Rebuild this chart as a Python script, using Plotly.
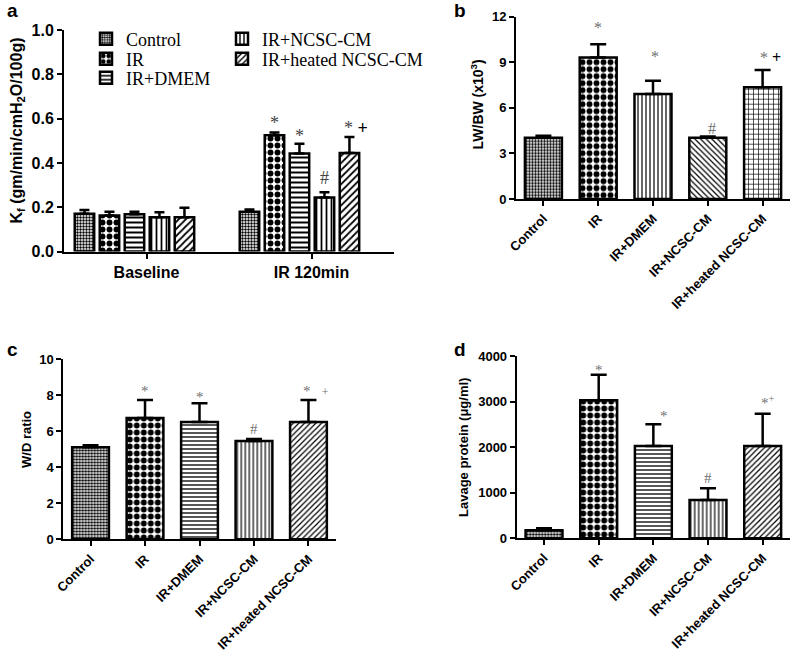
import plotly.graph_objects as go

# ---------------- data ----------------
groups = ["Control", "IR", "IR+DMEM", "IR+NCSC-CM", "IR+heated NCSC-CM"]
a_categories = ["Baseline", "IR 120min"]

# panel a : Kf
a_baseline = [0.170, 0.162, 0.168, 0.155, 0.155]
a_baseline_err = [0.017, 0.018, 0.012, 0.022, 0.043]
a_ir120 = [0.180, 0.525, 0.442, 0.244, 0.445]
a_ir120_err = [0.010, 0.012, 0.045, 0.024, 0.072]
a_sig = ["", "*", "*", "#", "*"]
a_plus = ["", "", "", "", "+"]

# panel b : LW/BW
b_vals = [4.04, 9.32, 6.91, 4.04, 7.35]
b_err = [0.13, 0.86, 0.88, 0.08, 1.14]
b_sig = ["", "*", "*", "#", "*"]
b_plus = ["", "", "", "", "+"]

# panel c : W/D ratio
c_vals = [5.10, 6.73, 6.50, 5.45, 6.50]
c_err = [0.11, 0.99, 1.04, 0.11, 1.22]
c_sig = ["", "*", "*", "#", "*"]
c_plus = ["", "", "", "", "+"]

# panel d : lavage protein
d_vals = [175, 3027, 2026, 841, 2026]
d_err = [44, 563, 475, 256, 709]
d_sig = ["", "*", "*", "#", "*"]
d_plus = ["", "", "", "", "+"]

# ---------------- styles ----------------
W, H = 794, 656
SANS = "Liberation Sans"
SERIF = "Liberation Serif"


def px_x(p):
    return p / W


def px_y(p):
    return 1 - p / H


pat_acd = [(".", 3, 0.5), (".", 7, 0.55), ("-", 4, 0.33), ("|", 4, 0.3), ("/", 4, 0.3)]
pat_a = [(".", 3, 0.5), (".", 7, 0.55), ("-", 5, 0.4), ("|", 5, 0.35), ("/", 5, 0.35)]
pat_b = [(".", 3, 0.5), (".", 7, 0.55), ("|", 4, 0.3), ("\\", 4, 0.3), ("+", 5, 0.25)]

fig = go.Figure()

# ---- panel a (grouped bars, explicit offsets) ----
gc, step, bw = -0.073, 0.1515, 0.118
for i, g in enumerate(groups):
    shp, sz, sol = pat_a[i]
    fig.add_trace(go.Bar(
        x=a_categories,
        y=[a_baseline[i], a_ir120[i]],
        name=g,
        width=bw,
        offset=gc + (i - 2) * step - bw / 2,
        marker=dict(color="white", line=dict(color="black", width=2.5),
                    pattern=dict(shape=shp, size=sz, solidity=sol,
                                 fgcolor="black", bgcolor="white")),
        error_y=dict(type="data", symmetric=False,
                     array=[a_baseline_err[i], a_ir120_err[i]],
                     arrayminus=[0, 0], color="black", thickness=2.5, width=5),
        xaxis="x", yaxis="y",
        legend="legend" if i == 0 else f"legend{i + 1}",
        showlegend=True,
    ))


def single_panel(vals, err, pats, xa, ya):
    fig.add_trace(go.Bar(
        x=groups, y=vals, width=0.675,
        marker=dict(color="white", line=dict(color="black", width=2.5),
                    pattern=dict(shape=[p[0] for p in pats],
                                 size=[p[1] for p in pats],
                                 solidity=[p[2] for p in pats],
                                 fgcolor="black", bgcolor="white")),
        error_y=dict(type="data", symmetric=False, array=err,
                     arrayminus=[0] * len(err), color="black",
                     thickness=2.5, width=8),
        xaxis=xa, yaxis=ya, showlegend=False,
    ))


single_panel(b_vals, b_err, pat_b, "x2", "y2")
single_panel(c_vals, c_err, pat_acd, "x3", "y3")
single_panel(d_vals, d_err, pat_acd, "x4", "y4")

axis_common = dict(showline=True, linecolor="black", linewidth=2, ticks="outside",
                   ticklen=5, tickwidth=2, tickcolor="black", showgrid=False,
                   zeroline=False, automargin=False)

fig.update_layout(
    template="none",
    width=W, height=H, margin=dict(l=0, r=0, t=0, b=0, autoexpand=False),
    paper_bgcolor="white", plot_bgcolor="white",
    barmode="overlay",
    xaxis=dict(domain=[px_x(64), px_x(394)], anchor="y", range=[-0.5, 1.5],
               tickfont=dict(family=SANS, size=16, color="black", weight="bold"),
               **axis_common),
    yaxis=dict(domain=[px_y(251.5), px_y(30)], anchor="x", range=[0, 1.0], dtick=0.2,
               tickformat=".1f",
               tickfont=dict(family=SANS, size=16, color="black", weight="bold"),
               **axis_common),
    xaxis2=dict(domain=[px_x(516), px_x(790)], anchor="y2", range=[-0.5, 4.5],
                tickangle=-45,
                tickfont=dict(family=SANS, size=13, color="black", weight="bold"),
                **axis_common),
    yaxis2=dict(domain=[px_y(199), px_y(16.7)], anchor="x2", range=[0, 12], dtick=3,
                tickfont=dict(family=SANS, size=13, color="black", weight="bold"),
                **axis_common),
    xaxis3=dict(domain=[px_x(63.3), px_x(335.7)], anchor="y3", range=[-0.5, 4.5],
                tickangle=-45,
                tickfont=dict(family=SANS, size=13, color="black", weight="bold"),
                **axis_common),
    yaxis3=dict(domain=[px_y(539.3), px_y(359)], anchor="x3", range=[0, 10], dtick=2,
                tickfont=dict(family=SANS, size=13, color="black", weight="bold"),
                **axis_common),
    xaxis4=dict(domain=[px_x(516.7), px_x(790)], anchor="y4", range=[-0.5, 4.5],
                tickangle=-45,
                tickfont=dict(family=SANS, size=13, color="black", weight="bold"),
                **axis_common),
    yaxis4=dict(domain=[px_y(538.3), px_y(356)], anchor="x4", range=[0, 4000], dtick=1000,
                tickfont=dict(family=SANS, size=13, color="black", weight="bold"),
                **axis_common),
)

# ---- legends (one per entry, positioned like the reference) ----
legend_pos = [(86, 39), (86, 59), (86, 78), (222, 39), (222, 59)]
for i, (lx, ly) in enumerate(legend_pos):
    key = "legend" if i == 0 else f"legend{i + 1}"
    fig.update_layout({key: dict(x=px_x(lx), y=px_y(ly), xanchor="left", yanchor="middle",
                                 bgcolor="rgba(0,0,0,0)", borderwidth=0,
                                 font=dict(family=SERIF, size=18, color="black"))})

# ---- significance marks ----
GRAY = "#707070"


def marks(xa, ya, vals, err, sig, plus, shifts, xshifts, size, plus_style):
    for i in range(len(vals)):
        if not sig[i]:
            continue
        txt = sig[i]
        if plus[i]:
            txt = sig[i] + plus_style
        fig.add_annotation(x=i, y=vals[i] + err[i],
                           xref=xa, yref=ya, text=txt, showarrow=False,
                           yanchor="middle", yshift=shifts[i], xshift=xshifts[i],
                           font=dict(family=SERIF, size=size, color=GRAY))


# panel a marks (IR 120min group)
a_shift = [0, 10, 8, 14, 9]
a_xshift = [0, 0, 0, 0, 7]
for i in range(len(groups)):
    if not a_sig[i]:
        continue
    txt = a_sig[i]
    if a_plus[i]:
        txt = a_sig[i] + " <span style='color:black'><b>" + a_plus[i] + "</b></span>"
    fig.add_annotation(x=1 + gc + (i - 2) * step, y=a_ir120[i] + a_ir120_err[i],
                       xref="x", yref="y", text=txt, showarrow=False,
                       yanchor="middle", yshift=a_shift[i], xshift=a_xshift[i],
                       font=dict(family=SERIF, size=18, color="#444444"))

for xa, ya, vals, err, sig, plus, sh, xsh, size, pst in [
    ("x2", "y2", b_vals, b_err, b_sig, b_plus, [0, 17, 24, 8, 13], [0, 0, 2, 4, 8], 16,
     " <span style='color:black'><b>" + b_plus[4] + "</b></span>"),
    ("x3", "y3", c_vals, c_err, c_sig, c_plus, [0, 9, 6, 10, 9], [0, 0, 0, 0, 8], 15,
     "   <span style='font-size:12px'>" + c_plus[4] + "</span>"),
    ("x4", "y4", d_vals, d_err, d_sig, d_plus, [0, 5, 8, 10, 12], [0, 0, 11, 0, 5], 15,
     "<sup>" + d_plus[4] + "</sup>"),
]:
    marks(xa, ya, vals, err, sig, plus, sh, xsh, size, pst)

# ---- axis titles ----
titles = [
    ("K<sub>f</sub> (gm/min/cmH<sub>2</sub>O/100g)", 16.5, 131, 16),
    ("LW/BW (x10<sup>3</sup>)", 477, 104.5, 14),
    ("W/D ratio", 26, 440, 13),
    ("Lavage protein (\u03bcg/ml)", 463, 448, 13),
]
for t, tx, ty, fs in titles:
    fig.add_annotation(x=px_x(tx), y=px_y(ty), xref="paper", yref="paper", text=t,
                       textangle=-90, showarrow=False, xanchor="center", yanchor="middle",
                       font=dict(family=SANS, size=fs, color="black", weight="bold"))

# ---- panel letters ----
for t, tx, ty in [("a", 12, 11), ("b", 460, 11), ("c", 12, 349), ("d", 460, 349)]:
    fig.add_annotation(x=px_x(tx), y=px_y(ty), xref="paper", yref="paper", text=t,
                       showarrow=False, xanchor="center", yanchor="middle",
                       font=dict(family=SANS, size=19, color="black", weight="bold"))

# page body without its default margin, so the figure fills the window exactly
fig.write_html("out.html", config={"displayModeBar": False},
               post_script="document.body.style.margin='0';")
